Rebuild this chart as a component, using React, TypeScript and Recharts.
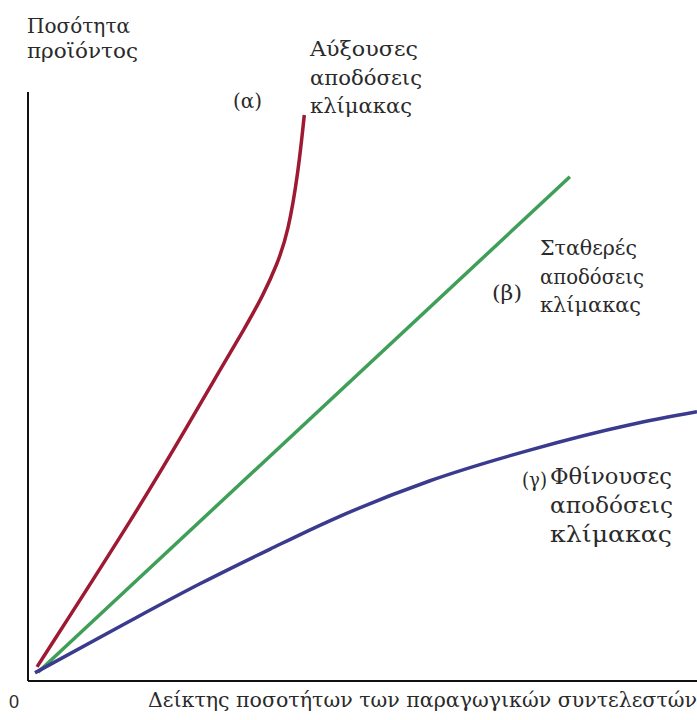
import { LineChart, Line, XAxis, YAxis } from "recharts";

// curve points (x = factor index, y = output), both on 0..100
const increasing = [
  { x: 1.35, y: 2.4 },
  { x: 16.7, y: 29.5 },
  { x: 24.2, y: 44.0 },
  { x: 28.7, y: 52.8 },
  { x: 32.4, y: 59.9 },
  { x: 35.1, y: 65.4 },
  { x: 37.2, y: 70.6 },
  { x: 38.9, y: 76.2 },
  { x: 40.4, y: 86.4 },
  { x: 41.3, y: 96.1 },
];
const constant = [
  { x: 1.5, y: 1.5 },
  { x: 81.0, y: 85.6 },
];
const decreasing = [
  { x: 1.05, y: 1.4 },
  { x: 13.8, y: 9.3 },
  { x: 25.7, y: 16.5 },
  { x: 36.2, y: 22.4 },
  { x: 45.1, y: 27.2 },
  { x: 60.1, y: 34.0 },
  { x: 75.0, y: 39.2 },
  { x: 90.0, y: 43.5 },
  { x: 100, y: 45.7 },
];

const yTitle = ["Ποσότητα", "προϊόντος"];
const xTitle = "Δείκτης ποσοτήτων των παραγωγικών συντελεστών";
const originLabel = "0";
const curveNames = ["(α)", "(β)", "(γ)"];
const curveNotes = [
  ["Αύξουσες", "αποδόσεις", "κλίμακας"],
  ["Σταθερές", "αποδόσεις", "κλίμακας"],
  ["Φθίνουσες", "αποδόσεις", "κλίμακας"],
];

const serifStyle = { fontFamily: "'DejaVu Serif', 'Liberation Serif', serif" };

// text layout: left x, first baseline, line gap, font size, and the width each line takes
const yTitleLayout = { x: 27, y: 33, gap: 25, size: 21, widths: [103, 111] };
const noteLayout = [
  { x: 310, y: 56, gap: 28.5, size: 21, widths: [108, 112, 102] },
  { x: 540, y: 255, gap: 28.5, size: 20, widths: [97, 104, 101] },
  { x: 550, y: 484, gap: 29, size: 22, widths: [122, 123, 122] },
];
const nameLayout = [
  { x: 233, y: 108, size: 21, width: 29 },
  { x: 492, y: 300, size: 21, width: 30 },
  { x: 522, y: 487, size: 21, width: 25 },
];

export default function App() {
  return (
    <div style={{ position: "absolute", left: 0, top: 0, width: 697, height: 720, background: "#fff" }}>
      <LineChart width={697} height={720} data={decreasing} margin={{ top: 92, right: 0, bottom: 38, left: 27 }}>
        <XAxis type="number" dataKey="x" domain={[0, 100]} height={1} tick={false} tickLine={false}
          axisLine={{ stroke: "#111", strokeWidth: 2 }} />
        <YAxis type="number" dataKey="y" domain={[0, 100]} width={1} tick={false} tickLine={false}
          axisLine={{ stroke: "#111", strokeWidth: 2 }} />
        <Line data={increasing} dataKey="y" type="basis" stroke="#9e1a32" strokeWidth={3.5} dot={false} isAnimationActive={false} />
        <Line data={constant} dataKey="y" type="linear" stroke="#3f9f58" strokeWidth={3.5} dot={false} isAnimationActive={false} />
        <Line data={decreasing} dataKey="y" type="monotone" stroke="#3a3b8e" strokeWidth={3.5} dot={false} isAnimationActive={false} />
      </LineChart>
      <svg width={697} height={720} style={{ position: "absolute", left: 0, top: 0, pointerEvents: "none" }}>
        <g style={serifStyle} fill="#2a2a2a">
          {yTitle.map((t, i) => (
            <text key={t} x={yTitleLayout.x} y={yTitleLayout.y + i * yTitleLayout.gap} fontSize={yTitleLayout.size}
              textLength={yTitleLayout.widths[i]} lengthAdjust="spacingAndGlyphs">{t}</text>
          ))}
          {curveNotes.map((lines, k) =>
            lines.map((t, i) => (
              <text key={k + t} x={noteLayout[k].x} y={noteLayout[k].y + i * noteLayout[k].gap} fontSize={noteLayout[k].size}
                textLength={noteLayout[k].widths[i]} lengthAdjust="spacingAndGlyphs">{t}</text>
            ))
          )}
          {curveNames.map((t, k) => (
            <text key={t} x={nameLayout[k].x} y={nameLayout[k].y} fontSize={nameLayout[k].size}
              textLength={nameLayout[k].width} lengthAdjust="spacingAndGlyphs">{t}</text>
          ))}
          <text x={148} y={707} fontSize={20} textLength={549} lengthAdjust="spacingAndGlyphs">{xTitle}</text>
        </g>
        <text x={9} y={708} style={{ fontFamily: "'Liberation Sans', sans-serif" }} fontSize={18} fill="#2a2a2a">{originLabel}</text>
      </svg>
    </div>
  );
}
